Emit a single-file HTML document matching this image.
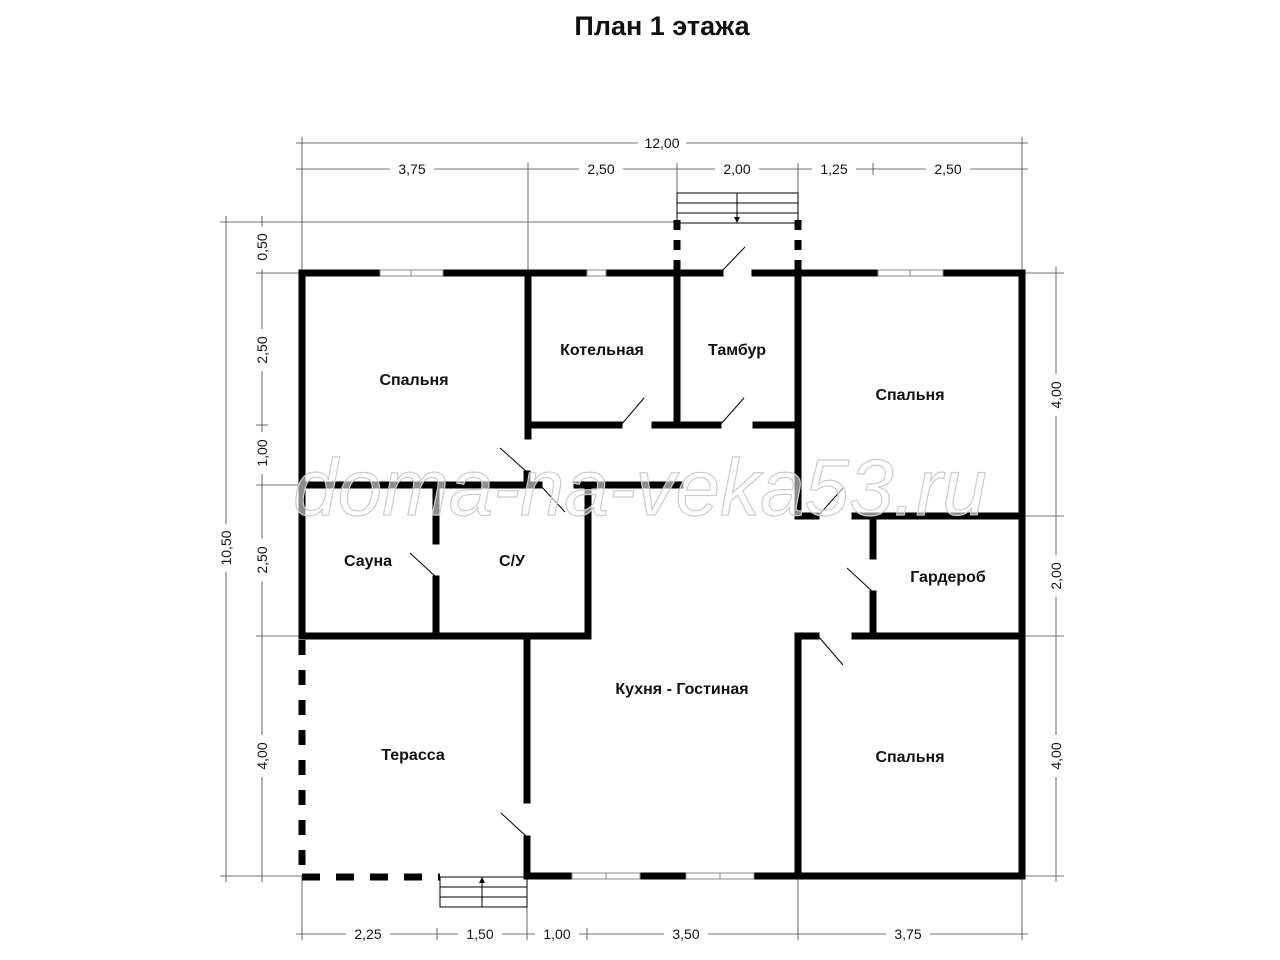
<!DOCTYPE html>
<html><head><meta charset="utf-8"><style>
html,body{margin:0;padding:0;background:#fff;}
svg{display:block;}
text{font-family:"Liberation Sans","Noto Sans CJK SC",sans-serif;}
.r{font-size:16px;font-weight:bold;fill:#111;text-anchor:middle;}
.d{font-size:14px;fill:#111;text-anchor:middle;}
</style></head><body>
<svg width="1280" height="960" viewBox="0 0 1280 960" xmlns="http://www.w3.org/2000/svg">
<text x="662" y="35" font-size="27" font-weight="bold" text-anchor="middle" fill="#111">План 1 этажа</text>

<g stroke="#444" stroke-width="0.8" fill="none">
<line x1="296" y1="143" x2="1028" y2="143"/>
<line x1="296" y1="169" x2="1028" y2="169"/>
<line x1="302" y1="137" x2="302" y2="273"/>
<line x1="528" y1="163" x2="528" y2="273"/>
<line x1="677" y1="163" x2="677" y2="195"/>
<line x1="798" y1="163" x2="798" y2="195"/>
<line x1="873" y1="163" x2="873" y2="175"/>
<line x1="1022" y1="137" x2="1022" y2="273"/>
<line x1="296" y1="934" x2="1028" y2="934"/>
<line x1="302" y1="876" x2="302" y2="940"/>
<line x1="437" y1="928" x2="437" y2="940"/>
<line x1="527" y1="876" x2="527" y2="940"/>
<line x1="587" y1="928" x2="587" y2="940"/>
<line x1="798" y1="876" x2="798" y2="940"/>
<line x1="1022" y1="876" x2="1022" y2="940"/>
<line x1="226" y1="216" x2="226" y2="882"/>
<line x1="262" y1="216" x2="262" y2="882"/>
<line x1="220" y1="222" x2="677" y2="222"/>
<line x1="256" y1="273" x2="302" y2="273"/>
<line x1="256" y1="425" x2="268" y2="425"/>
<line x1="256" y1="485" x2="302" y2="485"/>
<line x1="256" y1="636" x2="302" y2="636"/>
<line x1="220" y1="876" x2="302" y2="876"/>
<line x1="1056" y1="267" x2="1056" y2="882"/>
<line x1="1022" y1="273" x2="1064" y2="273"/>
<line x1="1022" y1="516" x2="1064" y2="516"/>
<line x1="1022" y1="636" x2="1064" y2="636"/>
<line x1="1022" y1="876" x2="1064" y2="876"/>
</g>
<g>
<rect x="638" y="135" width="48" height="16" fill="#fff"/><text class="d" x="662" y="148">12,00</text>
<rect x="390" y="161" width="44" height="16" fill="#fff"/><text class="d" x="412" y="174">3,75</text>
<rect x="579" y="161" width="44" height="16" fill="#fff"/><text class="d" x="601" y="174">2,50</text>
<rect x="715" y="161" width="44" height="16" fill="#fff"/><text class="d" x="737" y="174">2,00</text>
<rect x="812" y="161" width="44" height="16" fill="#fff"/><text class="d" x="834" y="174">1,25</text>
<rect x="926" y="161" width="44" height="16" fill="#fff"/><text class="d" x="948" y="174">2,50</text>
<rect x="346" y="926" width="44" height="16" fill="#fff"/><text class="d" x="368" y="939">2,25</text>
<rect x="458" y="926" width="44" height="16" fill="#fff"/><text class="d" x="480" y="939">1,50</text>
<rect x="535" y="926" width="44" height="16" fill="#fff"/><text class="d" x="557" y="939">1,00</text>
<rect x="664" y="926" width="44" height="16" fill="#fff"/><text class="d" x="686" y="939">3,50</text>
<rect x="886" y="926" width="44" height="16" fill="#fff"/><text class="d" x="908" y="939">3,75</text>
</g>
<g>
<rect x="218" y="524" width="16" height="48" fill="#fff"/><text class="d" transform="translate(231,548) rotate(-90)">10,50</text>
<rect x="254" y="227" width="16" height="42" fill="#fff"/><text class="d" transform="translate(267,247) rotate(-90)">0,50</text>
<rect x="254" y="329" width="16" height="42" fill="#fff"/><text class="d" transform="translate(267,350) rotate(-90)">2,50</text>
<rect x="254" y="432" width="16" height="42" fill="#fff"/><text class="d" transform="translate(267,453) rotate(-90)">1,00</text>
<rect x="254" y="539" width="16" height="42" fill="#fff"/><text class="d" transform="translate(267,560) rotate(-90)">2,50</text>
<rect x="254" y="735" width="16" height="42" fill="#fff"/><text class="d" transform="translate(267,756) rotate(-90)">4,00</text>
<rect x="1048" y="374" width="16" height="42" fill="#fff"/><text class="d" transform="translate(1061,395) rotate(-90)">4,00</text>
<rect x="1048" y="555" width="16" height="42" fill="#fff"/><text class="d" transform="translate(1061,576) rotate(-90)">2,00</text>
<rect x="1048" y="735" width="16" height="42" fill="#fff"/><text class="d" transform="translate(1061,756) rotate(-90)">4,00</text>
</g>

<g stroke="#000" stroke-width="7" fill="none" stroke-linecap="square">
<line x1="302" y1="273" x2="380" y2="273"/>
<line x1="443" y1="273" x2="587" y2="273"/>
<line x1="606" y1="273" x2="720" y2="273"/>
<line x1="755" y1="273" x2="878" y2="273"/>
<line x1="943" y1="273" x2="1022" y2="273"/>
<line x1="1022" y1="273" x2="1022" y2="876"/>
<line x1="302" y1="273" x2="302" y2="636"/>
<line x1="528" y1="273" x2="528" y2="436"/>
<line x1="528" y1="425" x2="619" y2="425"/>
<line x1="655" y1="425" x2="718" y2="425"/>
<line x1="756" y1="425" x2="798" y2="425"/>
<line x1="677" y1="273" x2="677" y2="425"/>
<line x1="798" y1="273" x2="798" y2="516"/>
<line x1="798" y1="516" x2="816" y2="516"/>
<line x1="855" y1="516" x2="1022" y2="516"/>
<line x1="873" y1="516" x2="873" y2="556"/>
<line x1="873" y1="594" x2="873" y2="636"/>
<line x1="855" y1="636" x2="1022" y2="636"/>
<line x1="798" y1="636" x2="816" y2="636"/>
<line x1="798" y1="636" x2="798" y2="876"/>
<line x1="527" y1="876" x2="572" y2="876"/>
<line x1="640" y1="876" x2="686" y2="876"/>
<line x1="754" y1="876" x2="1022" y2="876"/>
<line x1="527" y1="636" x2="527" y2="800"/>
<line x1="527" y1="839" x2="527" y2="876"/>
<line x1="302" y1="485" x2="539" y2="485"/>
<line x1="577" y1="485" x2="680" y2="485"/>
<line x1="527" y1="474" x2="527" y2="485"/>
<line x1="588" y1="485" x2="588" y2="636"/>
<line x1="436" y1="485" x2="436" y2="541"/>
<line x1="436" y1="579" x2="436" y2="636"/>
<line x1="302" y1="636" x2="588" y2="636"/>
</g>
<g fill="#fff" stroke="#888" stroke-width="1">
<rect x="380" y="270" width="63" height="6"/><line x1="411" y1="270" x2="411" y2="276"/>
<rect x="587" y="270" width="19" height="6"/>
<rect x="878" y="270" width="65" height="6"/><line x1="910" y1="270" x2="910" y2="276"/>
<rect x="572" y="873" width="68" height="6"/><line x1="606" y1="873" x2="606" y2="879"/>
<rect x="686" y="873" width="68" height="6"/><line x1="720" y1="873" x2="720" y2="879"/>
</g>
<g stroke="#000" stroke-width="7" fill="none">
<line x1="302" y1="640" x2="302" y2="876" stroke-dasharray="15 15"/>
<line x1="302" y1="877" x2="440" y2="877" stroke-dasharray="18 16"/>
<line x1="677" y1="220" x2="677" y2="273" stroke-dasharray="10 10"/>
<line x1="798" y1="220" x2="798" y2="273" stroke-dasharray="10 10"/>
</g>
<g stroke="#000" stroke-width="1" fill="none">
<rect x="677" y="193" width="121" height="30"/>
<line x1="677" y1="203" x2="798" y2="203"/><line x1="677" y1="213" x2="798" y2="213"/>
<line x1="737" y1="193" x2="737" y2="220"/>
<rect x="440" y="877" width="87" height="30"/>
<line x1="440" y1="887" x2="527" y2="887"/><line x1="440" y1="897" x2="527" y2="897"/>
<line x1="482" y1="907" x2="482" y2="880"/>
</g>
<polygon points="734,217 740,217 737,223" fill="#000"/>
<polygon points="479,883 485,883 482,877" fill="#000"/>
<g stroke="#000" stroke-width="1">
<line x1="720" y1="273" x2="745" y2="247"/>
<line x1="621" y1="425" x2="644" y2="398"/>
<line x1="720" y1="425" x2="744" y2="398"/>
<line x1="527" y1="472" x2="500" y2="448"/>
<line x1="540" y1="485" x2="565" y2="512"/>
<line x1="436" y1="577" x2="410" y2="553"/>
<line x1="527" y1="837" x2="501" y2="813"/>
<line x1="818" y1="516" x2="843" y2="488"/>
<line x1="873" y1="592" x2="847" y2="568"/>
<line x1="818" y1="636" x2="843" y2="665"/>
</g>
<text class="r" x="414" y="385">Спальня</text>
<text class="r" x="602" y="355">Котельная</text>
<text class="r" x="737" y="355">Тамбур</text>
<text class="r" x="910" y="400">Спальня</text>
<text class="r" x="368" y="566">Сауна</text>
<text class="r" x="512" y="566">С/У</text>
<text class="r" x="948" y="582">Гардероб</text>
<text class="r" x="682" y="694">Кухня - Гостиная</text>
<text class="r" x="413" y="760">Терасса</text>
<text class="r" x="910" y="762">Спальня</text>
<text x="640" y="515" text-anchor="middle" font-family="Liberation Serif, serif" font-style="italic" font-size="80" fill="rgba(255,255,255,0.55)" stroke="#ccc" stroke-width="1.2">doma-na-veka53.ru</text>
</svg>
</body></html>
